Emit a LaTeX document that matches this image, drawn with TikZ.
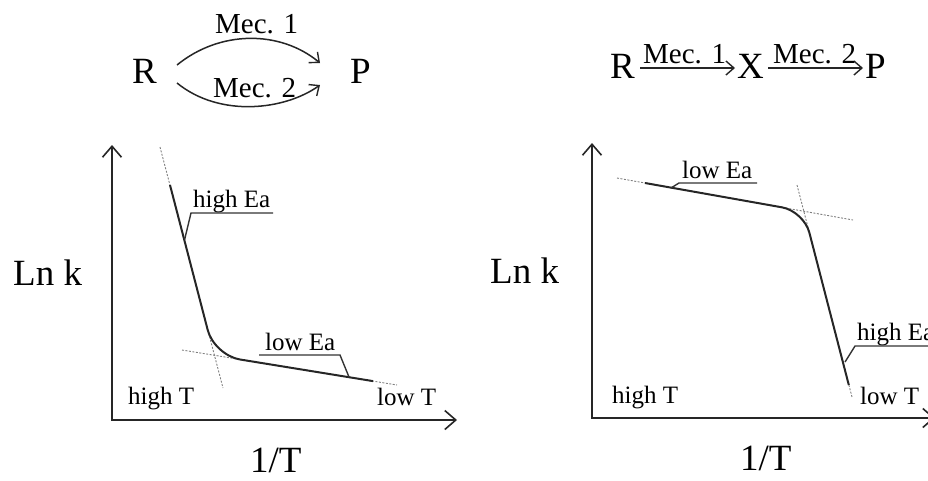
\documentclass[tikz,border=0pt]{standalone}
\usepackage{fontspec}
\setmainfont{Liberation Serif}
\usetikzlibrary{arrows.meta}
\tikzset{
  bigtxt/.style={font=\fontsize{37}{40}\selectfont, inner sep=0pt, anchor=base west},
  mectxt/.style={font=\fontsize{29}{32}\selectfont, inner sep=0pt, anchor=base west},
  smalltxt/.style={font=\fontsize{25}{28}\selectfont, inner sep=0pt, anchor=base west},
  axis/.style={line width=1.8pt, black!85},
  curve/.style={line width=2pt, black!85},
  guide/.style={line width=0.9pt, gray, dash pattern=on 2pt off 1.5pt},
  leader/.style={line width=1.4pt, black!80},
  rxntip/.tip={Straight Barb[length=8pt,width=14pt,line width=1.4pt]},
  rxn/.style={line width=1.5pt, black!85, -rxntip},
  axtip/.tip={Straight Barb[length=11pt,width=19pt,line width=1.6pt]}
}
\begin{document}
\begin{tikzpicture}[x=1pt,y=-1pt]
\useasboundingbox (0,0) rectangle (928,480);
% ---------- top left scheme ----------
\node[bigtxt] (R1) at (132,83) {R};
\node[bigtxt] (P1) at (350,83) {P};
\coordinate (m1s) at (177,65);
\coordinate (m1e) at (320,63);
\coordinate (m2s) at (177,83);
\coordinate (m2e) at (320,85);
\draw[rxn] (m1s) .. controls (220,30) and (280,30) .. (m1e);
\draw[rxn] (m2s) .. controls (220,118) and (285,110) .. (m2e);
\node[mectxt] (l1) at (215,33) {Mec. 1};
\node[mectxt] (l2) at (213,97) {Mec. 2};
% ---------- top right scheme ----------
\node[bigtxt] (R2) at (610,78) {R};
\node[bigtxt] (X2) at (737,78) {X};
\node[bigtxt] (P2) at (865,78) {P};
\coordinate (a1s) at (640,68);
\coordinate (a1e) at (735,68);
\coordinate (a2s) at (768,68);
\coordinate (a2e) at (863,68);
\draw[rxn] (a1s) -- (a1e);
\draw[rxn] (a2s) -- (a2e);
\node[mectxt] (l3) at (643,63) {Mec. 1};
\node[mectxt] (l4) at (773,63) {Mec. 2};
% ---------- left plot ----------
\coordinate (Y1) at (112,145);
\coordinate (O1) at (112,420);
\coordinate (X1) at (457,420);
\draw[axis, axtip-axtip] (Y1) -- (O1) -- (X1);
\coordinate (s1a) at (160,147);
\coordinate (s1b) at (223,388);
\coordinate (f1a) at (182,350);
\coordinate (f1b) at (397,385);
\draw[guide] (s1a) -- (s1b);
\draw[guide] (f1a) -- (f1b);
\coordinate (c1a) at (170,185);
\coordinate (c1m) at (214.3,355.3);
\coordinate (c1b) at (373,381.1);
\draw[curve, rounded corners=26pt] (c1a) -- (c1m) -- (c1b);
\node[smalltxt] (hE1) at (193,207) {high Ea};
\coordinate (u1a) at (273,213);
\coordinate (u1b) at (191,213);
\coordinate (u1c) at (184.5,240);
\draw[leader] (u1a) -- (u1b) -- (u1c);
\node[smalltxt] (lE1) at (265,350) {low Ea};
\coordinate (v1a) at (259,355);
\coordinate (v1b) at (340,355);
\coordinate (v1c) at (349,377);
\draw[leader] (v1a) -- (v1b) -- (v1c);
\node[smalltxt] (hT1) at (128,404) {high T};
\node[smalltxt] (lT1) at (377,405) {low T};
\node[bigtxt] (ln1) at (13,285) {Ln k};
\node[bigtxt] (it1) at (250,472) {1/T};
% ---------- right plot ----------
\coordinate (Y2) at (592,143);
\coordinate (O2) at (592,418);
\coordinate (X2e) at (935,418);
\draw[axis, axtip-axtip] (Y2) -- (O2) -- (X2e);
\coordinate (f2a) at (617,178);
\coordinate (f2b) at (853,220);
\coordinate (s2a) at (797,185);
\coordinate (s2b) at (852,397);
\draw[guide] (f2a) -- (f2b);
\draw[guide] (s2a) -- (s2b);
\coordinate (c2a) at (645,183);
\coordinate (c2m) at (803.8,211.2);
\coordinate (c2b) at (848.8,385);
\draw[curve, rounded corners=22pt] (c2a) -- (c2m) -- (c2b);
\node[smalltxt] (lE2) at (682,178) {low Ea};
\coordinate (u2a) at (757,183);
\coordinate (u2b) at (679,183);
\coordinate (u2c) at (671,188);
\draw[leader] (u2a) -- (u2b) -- (u2c);
\node[smalltxt] (hE2) at (857,340) {high Ea};
\coordinate (v2a) at (935,346);
\coordinate (v2b) at (855,346);
\coordinate (v2c) at (845,362);
\draw[leader] (v2a) -- (v2b) -- (v2c);
\node[smalltxt] (hT2) at (612,403) {high T};
\node[smalltxt] (lT2) at (860,404) {low T};
\node[bigtxt] (ln2) at (490,283) {Ln k};
\node[bigtxt] (it2) at (740,470) {1/T};
\end{tikzpicture}
\end{document}
